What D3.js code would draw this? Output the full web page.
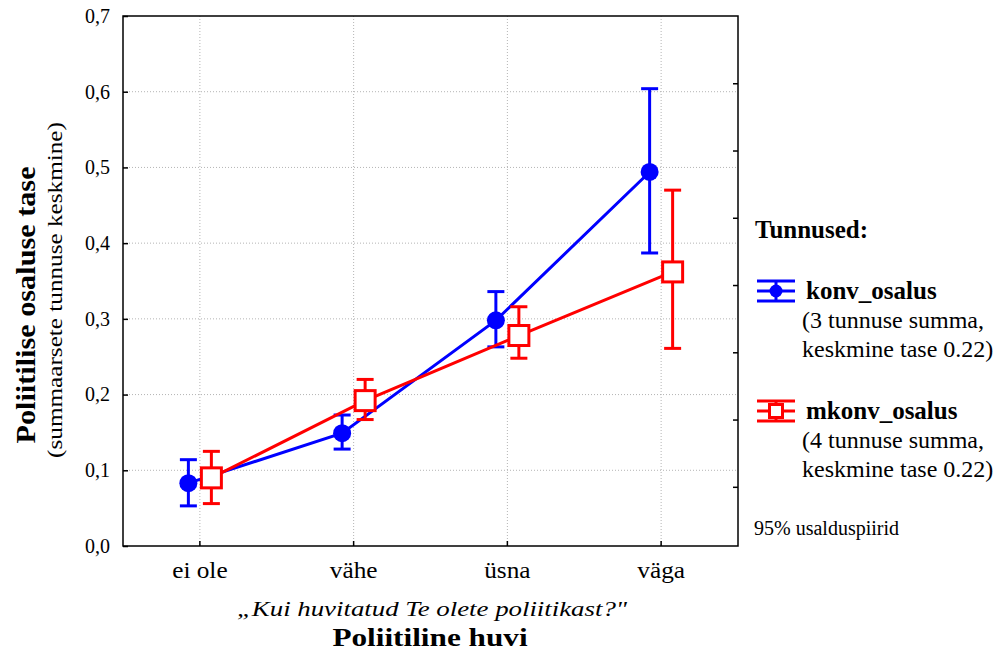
<!DOCTYPE html>
<html>
<head>
<meta charset="utf-8">
<script src="https://cdn.jsdelivr.net/npm/d3@7"></script>
<style>
  body { margin: 0; background: #fff; }
  text { font-family: "Liberation Serif", "Times New Roman", serif; fill: #000; }
</style>
</head>
<body>
<svg id="chart" width="1005" height="656"></svg>
<script>
var categories = ["ei ole", "vähe", "üsna", "väga"];
var yTicks = [0, 0.1, 0.2, 0.3, 0.4, 0.5, 0.6, 0.7];
var rightTicks = [0, 0.1, 0.2, 0.3, 0.4, 0.5, 0.6];

// konv_osalus: mean and 95% limits
var konvMean = [0.083, 0.149, 0.298, 0.494];
var konvLow  = [0.053, 0.128, 0.263, 0.387];
var konvHigh = [0.114, 0.173, 0.336, 0.604];

// mkonv_osalus
var mkonvMean = [0.090, 0.192, 0.278, 0.362];
var mkonvLow  = [0.056, 0.167, 0.248, 0.261];
var mkonvHigh = [0.125, 0.220, 0.316, 0.470];

var margin = {top: 16, right: 267, bottom: 110, left: 123},
  width = 1005 - margin.left - margin.right,
  height = 656 - margin.top - margin.bottom;

var svg = d3.select('#chart');
var g = svg.append('g')
  .attr('transform', 'translate(' + margin.left + ',' + margin.top + ')');

var x = d3.scaleBand().domain(categories).range([0, width]);
var y = d3.scaleLinear().domain([0, 0.7]).range([height, 0]);
var yRight = d3.scaleLinear().domain([-0.088, 0.7]).range([height, 0]);

// grid
g.selectAll('.hgrid')
  .data(yTicks.filter(function(d) { return d > 0 && d < 0.7; }))
  .enter().append('line')
  .attr('x1', 0).attr('x2', width)
  .attr('y1', function(d) { return y(d); })
  .attr('y2', function(d) { return y(d); })
  .attr('stroke', '#b4b4b4').attr('stroke-width', 1).attr('stroke-dasharray', '1,2');
g.selectAll('.vgrid')
  .data(categories)
  .enter().append('line')
  .attr('x1', function(d) { return x(d) + x.bandwidth() / 2; })
  .attr('x2', function(d) { return x(d) + x.bandwidth() / 2; })
  .attr('y1', 0).attr('y2', height)
  .attr('stroke', '#b4b4b4').attr('stroke-width', 1).attr('stroke-dasharray', '1,2');

// axes
var yAxis = d3.axisLeft(y).tickValues(yTicks).tickSize(-5).tickPadding(13)
  .tickFormat(function(d) { return d3.format('.1f')(d).replace('.', ','); });
var ay = g.append('g').call(yAxis);
ay.selectAll('text').style('font-size', '20px');

var xAxis = d3.axisBottom(x).tickSize(-5);
var ax = g.append('g').attr('transform', 'translate(0,' + height + ')').call(xAxis);
ax.selectAll('text').attr('y', 32).attr('dy', 0).style('font-size', '23px')
  .attr('transform', 'scale(1.1,1)');

var ar = g.append('g').attr('transform', 'translate(' + width + ',0)')
  .call(d3.axisRight(yRight).tickValues(rightTicks).tickSize(-5).tickFormat(''));

[ay, ax, ar].forEach(function(a) {
  a.select('.domain').remove();
  a.selectAll('line').attr('stroke', '#000').attr('stroke-width', 1.5);
});

g.append('rect')
  .attr('width', width).attr('height', height)
  .attr('fill', 'none').attr('stroke', '#000').attr('stroke-width', 1.5);

// series
var series = [
  {name: 'konv_osalus', mean: konvMean, low: konvLow, high: konvHigh, color: '#0000ff', dx: -11.5, marker: 'circle'},
  {name: 'mkonv_osalus', mean: mkonvMean, low: mkonvLow, high: mkonvHigh, color: '#ff0000', dx: 11.5, marker: 'square'}
];

series.forEach(function(s) {
  var pts = categories.map(function(c, i) {
    return {x: x(c) + x.bandwidth() / 2 + s.dx, m: s.mean[i], lo: s.low[i], hi: s.high[i]};
  });
  var sg = g.append('g');
  sg.append('path')
    .datum(pts)
    .attr('fill', 'none').attr('stroke', s.color).attr('stroke-width', 3)
    .attr('d', d3.line().x(function(d) { return d.x; }).y(function(d) { return y(d.m); }));
  var eb = sg.selectAll('.eb').data(pts).enter().append('g');
  eb.append('line')
    .attr('x1', function(d) { return d.x; }).attr('x2', function(d) { return d.x; })
    .attr('y1', function(d) { return y(d.lo); }).attr('y2', function(d) { return y(d.hi); })
    .attr('stroke', s.color).attr('stroke-width', 3);
  ['lo', 'hi'].forEach(function(k) {
    eb.append('line')
      .attr('x1', function(d) { return d.x - 8.5; }).attr('x2', function(d) { return d.x + 8.5; })
      .attr('y1', function(d) { return y(d[k]); }).attr('y2', function(d) { return y(d[k]); })
      .attr('stroke', s.color).attr('stroke-width', 3);
  });
  if (s.marker === 'circle') {
    eb.append('circle')
      .attr('cx', function(d) { return d.x; }).attr('cy', function(d) { return y(d.m); })
      .attr('r', 9).attr('fill', s.color);
  } else {
    eb.append('rect')
      .attr('x', function(d) { return d.x - 10; }).attr('y', function(d) { return y(d.m) - 10; })
      .attr('width', 20).attr('height', 20)
      .attr('fill', '#fff').attr('stroke', s.color).attr('stroke-width', 3);
  }
});

// wide text helper: the source chart's lettering is stretched sideways
function wideText(parent, tx, ty, rot, k, size, txt) {
  return parent.append('text')
    .attr('transform', 'translate(' + tx + ',' + ty + ') rotate(' + rot + ') scale(' + k + ',1)')
    .attr('text-anchor', 'middle')
    .style('font-size', size + 'px')
    .text(txt);
}

// axis titles
wideText(svg, 432, 616, 0, 1.22, 22, '„Kui huvitatud Te olete poliitikast?"').style('font-style', 'italic');
wideText(svg, 430, 646, 0, 1.25, 25, 'Poliitiline huvi').style('font-weight', 'bold');
wideText(svg, 35, 305, -90, 1.12, 27, 'Poliitilise osaluse tase').style('font-weight', 'bold');
wideText(svg, 62, 290, -90, 1.2, 21, '(summaarsete tunnuse keskmine)');

// legend
var lg = svg.append('g');
lg.append('text').attr('x', 755).attr('y', 238)
  .style('font-size', '25px').style('font-weight', 'bold').text('Tunnused:');

var legendRows = [
  {s: series[0], y: 291, lines: ['(3 tunnuse summa,', 'keskmine tase 0.22)']},
  {s: series[1], y: 411, lines: ['(4 tunnuse summa,', 'keskmine tase 0.22)']}
];
legendRows.forEach(function(r) {
  var c = r.s.color, cx = 776;
  [-10, 0, 10].forEach(function(dy) {
    lg.append('line').attr('x1', 757).attr('x2', 795)
      .attr('y1', r.y + dy).attr('y2', r.y + dy)
      .attr('stroke', c).attr('stroke-width', 3);
  });
  lg.append('line').attr('x1', cx).attr('x2', cx)
    .attr('y1', r.y - 10).attr('y2', r.y + 10)
    .attr('stroke', c).attr('stroke-width', 3);
  if (r.s.marker === 'circle') {
    lg.append('circle').attr('cx', cx).attr('cy', r.y).attr('r', 6.5).attr('fill', c);
  } else {
    lg.append('rect').attr('x', cx - 6.5).attr('y', r.y - 6.5)
      .attr('width', 13).attr('height', 13)
      .attr('fill', '#fff').attr('stroke', c).attr('stroke-width', 3);
  }
  lg.append('text').attr('x', 806).attr('y', r.y + 8)
    .style('font-size', '25px').style('font-weight', 'bold').text(r.s.name);
  r.lines.forEach(function(t, i) {
    lg.append('text').attr('x', 802).attr('y', r.y + 37 + i * 29)
      .style('font-size', '24px').text(t);
  });
});
lg.append('text').attr('x', 754).attr('y', 535)
  .style('font-size', '20px').text('95% usalduspiirid');
</script>
</body>
</html>
